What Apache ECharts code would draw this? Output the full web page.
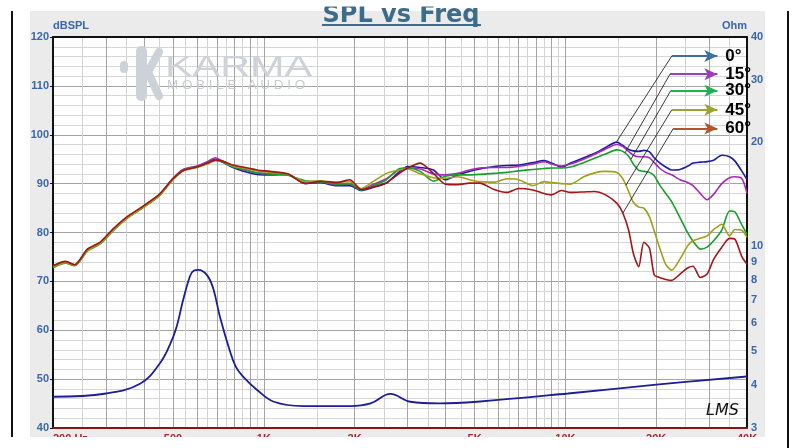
<!DOCTYPE html>
<html lang="en">
<head>
<meta charset="UTF-8">
<title>SPL vs Freq</title>
<style>
    * { margin: 0; padding: 0; }
    html, body { width: 100%; height: 100%; background: #fff; }
    #chart { width: 800px; height: 448px; }
</style>
<script src="https://cdn.jsdelivr.net/npm/echarts@6/dist/echarts.min.js"></script>
</head>
<body>
<div id="chart"></div>
<script>
    // frequency points (Hz) shared by the five SPL curves
    const FREQ = [
        200, 220, 236, 260, 286, 316, 350, 400, 450, 500, 540, 600, 650, 690, 730, 790, 850, 950, 1050, 1200, 1370, 1540, 1740, 1930,
        2100, 2300, 2550, 2800, 3000, 3300, 3650, 4000, 4400, 4800, 5200,
        5800, 6400, 7000, 7800, 8500, 9000, 9700, 10400, 11500, 12500, 13500,
        14800, 15500, 16200, 16800, 17500, 18200, 19000, 19700, 20500, 21500, 22500, 24000, 25500, 26500, 28000, 29500, 31000, 33000, 35000, 36500, 38500, 40000
    ]

    const SPL_0 = [
        73.0, 74.0, 73.3, 76.4, 77.8, 80.5, 82.9, 85.3, 87.6, 91.0, 92.8, 93.5, 94.3, 95.0, 94.4, 93.3, 92.6, 91.9, 91.8, 91.9, 90.1, 90.2, 89.6, 89.6,
        88.6, 89.2, 90.1, 92.3, 93.5, 93.3, 92.8, 90.8, 91.8, 92.5, 93.0,
        93.5, 93.7, 93.8, 94.3, 94.7, 94.2, 93.4, 94.2, 95.3, 96.2, 97.3,
        98.5, 97.8, 97.0, 96.7, 96.6, 96.8, 96.5, 95.3, 94.3, 93.4, 92.8, 92.9, 93.6, 94.2, 94.4, 94.5, 94.8, 95.8, 95.5, 94.6, 92.5, 90.8
    ]
    const SPL_15 = [
        73.1, 74.0, 73.4, 76.5, 77.9, 80.6, 83.0, 85.4, 87.7, 91.1, 92.9, 93.6, 94.5, 95.3, 94.6, 93.5, 92.9, 92.2, 92.0, 91.8, 90.3, 90.4, 89.8, 89.9,
        88.8, 89.8, 91.0, 92.8, 93.2, 93.0, 92.0, 91.8, 92.1, 92.8, 93.2,
        93.3, 93.3, 93.5, 94.0, 94.5, 94.0, 93.6, 94.0, 95.0, 96.0, 97.0,
        98.0, 97.6, 96.6, 95.8, 95.5, 95.5, 95.3, 94.3, 93.2, 92.3, 91.8, 90.8, 90.2, 89.6, 88.0, 86.7, 87.8, 90.0, 91.2, 91.4, 91.0, 88.0
    ]
    const SPL_30 = [
        72.8, 73.7, 73.2, 76.2, 77.6, 80.3, 82.8, 85.2, 87.5, 90.9, 92.7, 93.4, 94.1, 94.8, 94.4, 93.4, 93.0, 92.2, 92.0, 91.7, 90.6, 90.4, 89.9, 90.0,
        88.7, 89.5, 90.8, 93.0, 93.2, 92.5, 90.5, 91.5, 91.8, 91.8, 91.9,
        92.1, 92.3, 92.6, 92.9, 93.1, 93.2, 93.2, 93.4, 94.3, 95.2, 96.0,
        96.9, 96.6, 95.6, 94.0, 92.7, 92.5, 92.3, 91.6, 89.8, 88.0, 86.3, 83.0, 79.8, 78.2, 76.6, 77.0, 78.3, 80.5, 84.4, 84.2, 81.5, 79.6
    ]
    const SPL_45 = [
        73.0, 73.8, 73.3, 76.3, 77.7, 80.4, 82.8, 85.2, 87.5, 90.8, 92.6, 93.3, 94.0, 94.7, 94.6, 93.6, 93.2, 92.6, 92.3, 91.9, 90.4, 90.6, 90.3, 90.4,
        89.0, 90.4, 92.1, 92.8, 93.0, 92.0, 91.2, 91.1, 91.4, 90.8, 90.4,
        90.3, 91.0, 90.8, 89.6, 90.4, 90.2, 90.0, 89.9, 91.4, 92.2, 92.5,
        92.3, 91.0, 88.4, 86.2, 85.2, 85.0, 83.2, 80.3, 77.0, 73.5, 72.3, 74.6, 77.4, 78.3, 78.8, 79.3, 80.6, 81.7, 79.3, 80.6, 80.4, 79.0
    ]
    const SPL_60 = [
        73.2, 74.1, 73.4, 76.6, 78.0, 80.7, 83.1, 85.5, 87.8, 91.0, 92.7, 93.4, 94.2, 94.8, 94.6, 93.8, 93.4, 92.8, 92.5, 92.0, 90.0, 90.5, 90.2, 90.8,
        88.8, 89.3, 90.2, 92.0, 93.2, 94.2, 92.1, 89.9, 89.8, 90.1, 90.1,
        88.8, 88.2, 89.0, 88.7, 88.0, 87.7, 88.6, 88.2, 88.3, 88.4, 87.8,
        86.0, 84.0, 80.5, 75.7, 73.0, 78.0, 76.8, 71.3, 70.8, 70.4, 70.2, 71.5, 72.8, 73.1, 70.8, 71.5, 74.5, 77.0, 78.8, 78.6, 75.0, 73.5
    ]

    const SPL_NAMES = ['0°', '15°', '30°', '45°', '60°']
    const SPL_VALUES = [SPL_0, SPL_15, SPL_30, SPL_45, SPL_60]
    const CURVE_COLORS = ['#1c1ca2', '#a82ab4', '#16a02a', '#a0a01a', '#a21616']

    // impedance curve (Ohm, right log axis)
    const IMP_FREQ = [200, 300, 390, 452, 488, 514, 540, 569, 585, 607, 648, 680, 715, 770, 808, 855, 950, 1080, 1350, 1930, 2260, 2630, 3060, 3800, 5100, 10200, 20000, 40000]
    const IMP_OHM = [3.69, 3.77, 4.03, 4.60, 5.2, 5.87, 7.0, 8.2, 8.5, 8.55, 8.26, 7.55, 6.28, 5.03, 4.5, 4.21, 3.86, 3.57, 3.47, 3.47, 3.53, 3.76, 3.57, 3.53, 3.57, 3.77, 4.0, 4.22]

    // axis ticks
    const X_LABEL_VALUES = [200, 500, 1000, 2000, 5000, 10000, 20000, 40000]
    const X_LABELS = ['200 Hz', '500', '1K', '2K', '5K', '10K', '20K', '40K']
    const X_MAJOR = [300, 400, 500, 600, 700, 800, 900, 1000, 2000, 3000, 4000, 5000, 6000, 7000, 8000, 9000, 10000, 20000, 30000]
    const X_MINOR = [250, 350, 450, 550, 650, 750, 850, 950, 1500, 2500, 3500, 4500, 5500, 6500, 7500, 8500, 9500, 15000, 25000, 35000]
    const OHM_TICKS = [3, 4, 5, 6, 7, 8, 9, 10, 20, 30, 40]

    // angle legend: arrows and leader lines (in data units)
    const ARROW_COLORS = ['#3f6f9f', '#9a3fb5', '#21b04f', '#9ca32e', '#b0552c']
    const ARROW_DB = [116.1, 112.4, 109.0, 105.1, 101.3]
    const ARROW_FROM_HZ = [22520, 22220, 22340, 22520, 22790]
    const ARROW_TIP_HZ = 31900
    const LEADER_HZ = [14790, 15760, 16500, 15880, 15520]
    const LEADER_DB = [98.6, 96.3, 95.0, 89.7, 84.0]

    const BLUE_TEXT = '#3a66aa'
    const FONT = '"Liberation Sans", Arial, sans-serif'

    function xLabel(v) {
        let best = 0
        for (let i = 1; i < X_LABEL_VALUES.length; i++) {
            if (Math.abs(Math.log(X_LABEL_VALUES[i] / v)) < Math.abs(Math.log(X_LABEL_VALUES[best] / v))) best = i
        }
        return X_LABELS[best]
    }

    let chart = echarts.init(document.getElementById('chart'))

    let series = SPL_NAMES.map(function (name, i) {
        return {
            name: name,
            type: 'line',
            xAxisIndex: 0,
            yAxisIndex: 0,
            data: FREQ.map((f, k) => [f, SPL_VALUES[i][k]]),
            symbol: 'none',
            smooth: 0.25,
            lineStyle: {color: CURVE_COLORS[i], width: 1.6},
            z: 3
        }
    })

    series.push({
        name: 'Impedance',
        type: 'line',
        xAxisIndex: 0,
        yAxisIndex: 1,
        data: IMP_FREQ.map((f, k) => [f, IMP_OHM[k]]),
        symbol: 'none',
        smooth: 0.4,
        lineStyle: {color: '#1d1d96', width: 1.8},
        z: 3
    })

    let legendLines = []
    SPL_NAMES.forEach(function (name, i) {
        legendLines.push([
            {
                coord: [ARROW_FROM_HZ[i], ARROW_DB[i]],
                symbol: 'none',
                lineStyle: {color: ARROW_COLORS[i], width: 2, type: 'solid'},
                label: {
                    show: true, position: 'end', formatter: name, distance: 8,
                    color: '#000', fontSize: 17, fontWeight: 'bold', fontFamily: FONT
                }
            },
            {coord: [ARROW_TIP_HZ, ARROW_DB[i]], symbol: 'arrow', symbolSize: [9, 13]}
        ])
        legendLines.push([
            {
                coord: [ARROW_FROM_HZ[i], ARROW_DB[i]],
                symbol: 'none',
                lineStyle: {color: '#222', width: 0.9, type: 'solid'},
                label: {show: false}
            },
            {coord: [LEADER_HZ[i], LEADER_DB[i]], symbol: 'none'}
        ])
    })

    series.push({
        name: 'legend',
        type: 'line',
        xAxisIndex: 0,
        yAxisIndex: 0,
        data: [],
        clip: false,
        markLine: {
            silent: true,
            animation: false,
            data: legendLines
        },
        z: 6
    })

    let option = {
        backgroundColor: '#fff',
        animation: false,
        textStyle: {fontFamily: FONT},
        grid: {left: 53, right: 53, top: 37, bottom: 20, show: true, backgroundColor: '#fff', borderWidth: 0},
        xAxis: [
            {
                type: 'log', logBase: 10, min: 200, max: 40000, position: 'bottom',
                axisLine: {show: true, onZero: false, lineStyle: {color: '#8c1414', width: 2}},
                axisTick: {show: false, customValues: X_MAJOR},
                axisLabel: {
                    customValues: X_LABEL_VALUES, formatter: xLabel, alignMinLabel: 'left',
                    color: '#a42a2a', fontWeight: 'bold', fontSize: 11, margin: 5
                },
                splitLine: {show: true, lineStyle: {color: '#a4a4a4', width: 1}},
                minorTick: {show: false},
                minorSplitLine: {show: false}
            },
            {
                type: 'log', logBase: 10, min: 200, max: 40000, position: 'top',
                axisLine: {show: true, onZero: false, lineStyle: {color: '#111', width: 2}},
                axisTick: {show: false, customValues: X_MINOR},
                axisLabel: {show: false},
                splitLine: {show: true, lineStyle: {color: '#d3d3d3', width: 1}}
            }
        ],
        yAxis: [
            {
                type: 'value', min: 40, max: 120, interval: 10, position: 'left',
                name: 'dBSPL', nameLocation: 'end', nameGap: 4,
                nameTextStyle: {color: BLUE_TEXT, fontWeight: 'bold', fontSize: 11, align: 'left'},
                axisLine: {show: true, lineStyle: {color: '#111', width: 2}},
                axisTick: {show: true, length: 3, lineStyle: {color: '#111'}},
                axisLabel: {color: BLUE_TEXT, fontWeight: 'bold', fontSize: 11, margin: 4},
                splitLine: {show: true, lineStyle: {color: '#a4a4a4'}},
                minorTick: {show: false, splitNumber: 5},
                minorSplitLine: {show: true, lineStyle: {color: '#d6d6d6'}}
            },
            {
                type: 'log', logBase: 10, min: 3, max: 40, position: 'right',
                name: 'Ohm', nameLocation: 'end', nameGap: 4,
                nameTextStyle: {color: BLUE_TEXT, fontWeight: 'bold', fontSize: 11, align: 'right'},
                axisLine: {show: true, lineStyle: {color: '#111', width: 2}},
                axisTick: {show: false, customValues: OHM_TICKS},
                axisLabel: {customValues: OHM_TICKS, color: BLUE_TEXT, fontWeight: 'bold', fontSize: 11, margin: 4},
                splitLine: {show: false},
                minorTick: {show: false}
            }
        ],
        graphic: [
            {type: 'rect', silent: true, z: -10, shape: {x: 30, y: 11, width: 735, height: 437}, style: {fill: '#ebebeb'}},
            {type: 'line', silent: true, z: -9, shape: {x1: 12, y1: 11, x2: 12, y2: 437}, style: {stroke: '#111', lineWidth: 2}},
            // watermark
            {type: 'rect', silent: true, z: 1, shape: {x: 120, y: 61, width: 8, height: 12, r: 4}, style: {fill: '#cdd2d8'}},
            {type: 'rect', silent: true, z: 1, shape: {x: 136, y: 46, width: 11, height: 55, r: 5}, style: {fill: '#cdd2d8'}},
            {type: 'polyline', silent: true, z: 1, shape: {points: [[159, 52], [148, 72], [159, 96]]}, style: {stroke: '#cdd2d8', lineWidth: 8, lineCap: 'round', lineJoin: 'round', fill: null}},
            {type: 'text', silent: true, z: 1, x: 165, y: 53, scaleX: 1.38, style: {text: 'KARMA', font: '30px "Liberation Sans"', fill: '#cdd2d8', align: 'left', verticalAlign: 'top'}},
            {type: 'text', silent: true, z: 1, x: 167, y: 80, scaleX: 1.12, style: {text: 'M O B I L E   A U D I O', font: '12px "Liberation Sans"', fill: '#c6ccd3', align: 'left', verticalAlign: 'top'}},
            // title
            {type: 'text', silent: true, z: 50, x: 401, y: 16, style: {text: 'SPL vs Freq', font: 'bold 24px "DejaVu Sans"', fill: '#3d6b8a', align: 'center', verticalAlign: 'middle'}},
            {type: 'line', silent: true, z: 50, shape: {x1: 322, y1: 25, x2: 481, y2: 25}, style: {stroke: '#3d6b8a', lineWidth: 2}},
            {type: 'rect', silent: true, z: 100, shape: {x: 0, y: 0, width: 800, height: 6.5}, style: {fill: '#fff'}},
            // LMS mark
            {type: 'text', silent: true, z: 20, x: 706, y: 403, style: {text: 'LMS', font: 'italic 16px "DejaVu Sans"', fill: '#111', align: 'left', verticalAlign: 'top'}},
            // bottom crop
            {type: 'rect', silent: true, z: 100, shape: {x: 0, y: 437, width: 800, height: 11}, style: {fill: '#fff'}},
            {type: 'line', silent: true, z: 101, shape: {x1: 788, y1: 11, x2: 788, y2: 448}, style: {stroke: '#111', lineWidth: 2}}
        ],
        series: series
    }

    chart.setOption(option, true)
</script>
</body>
</html>
